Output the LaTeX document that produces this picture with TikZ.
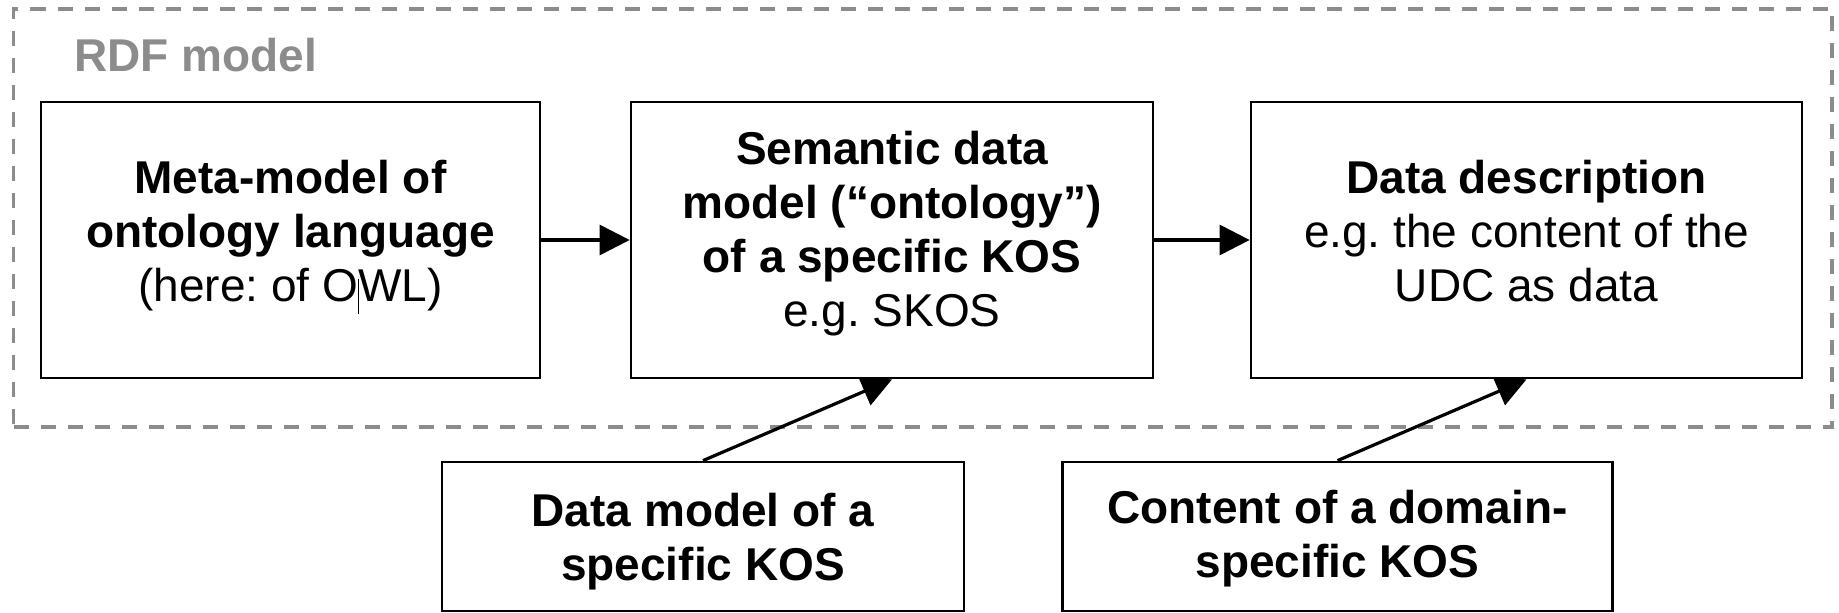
\documentclass[tikz,border=0pt]{standalone}
\usepackage{fontspec}
\setmainfont{Liberation Sans}
\usetikzlibrary{arrows.meta}
\definecolor{rdfgray}{RGB}{140,140,140}
\frenchspacing
\newcommand{\btext}[2]{\raisebox{#1}[0pt][0pt]{\begin{tabular}[t]{@{}c@{}}#2\end{tabular}}}
\newcommand{\cbar}{\makebox[0pt]{\rule[-6pt]{0.5pt}{17.5pt}}}
\begin{document}
\begin{tikzpicture}[x=0.5pt,y=-0.5pt,
  kbox/.style={draw=black, line width=1.4pt, inner sep=0pt, fill=white,
    font=\fontsize{23}{27}\selectfont},
  topbox/.style={kbox, minimum height=138pt},
  lowbox/.style={kbox, minimum height=74.5pt},
  flow/.style={line width=1.6pt, -{Triangle[length=15pt,width=15pt]}},
  frame/.style={draw=rdfgray, line width=1.6pt, dash pattern=on 7.5pt off 6pt, inner sep=0pt},
  framelabel/.style={anchor=base west, inner sep=0pt, text=rdfgray,
    font=\fontsize{23}{27}\selectfont\bfseries}]
\useasboundingbox (0,0) rectangle (1839,613);

\node[frame, minimum width=909.25pt, minimum height=209pt] (rdf) at (922.75,218) {};
\node[framelabel] (rdflabel) at (74,72) {RDF model};

\node[topbox, minimum width=249.5pt] (b1) at (290.5,240)
  {\btext{23pt}{\bfseries Meta-model of\\ \bfseries ontology language\\ (here: of O\cbar WL)}};
\node[topbox, minimum width=261pt] (b2) at (892,240)
  {\btext{37.5pt}{\bfseries Semantic data\\ \bfseries model (“ontology”)\\ \bfseries of a specific KOS\\ e.g. SKOS}};
\node[topbox, minimum width=275.5pt] (b3) at (1526.5,240)
  {\btext{23pt}{\bfseries Data description\\ e.g. the content of the\\ UDC as data}};
\node[lowbox, minimum width=261pt] (b4) at (703,536.5)
  {\btext{5pt}{\bfseries Data model of a\\ \bfseries specific KOS}};
\node[lowbox, minimum width=275pt] (b5) at (1337.5,536.5)
  {\btext{6.5pt}{\bfseries Content of a domain-\\ \bfseries specific KOS}};

\draw[flow] (b1.east) -- (b2.west);
\draw[flow] (b2.east) -- (b3.west);
\draw[flow] (b4.north) -- (b2.south);
\draw[flow] (b5.north) -- (b3.south);
\end{tikzpicture}
\end{document}
